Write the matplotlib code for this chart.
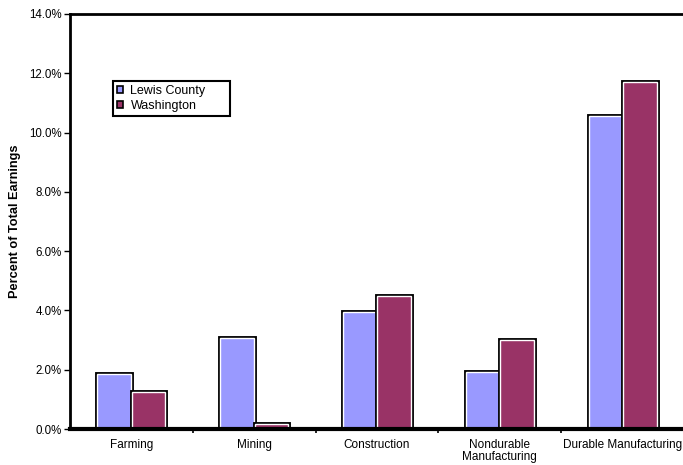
import numpy as np
import matplotlib.pyplot as plt
import matplotlib.patheffects as pe
from matplotlib.ticker import FuncFormatter, FixedLocator

plt.rcParams['font.family'] = ['Liberation Sans', 'DejaVu Sans']

# Share of total earnings by industry (percent)
categories = ["Farming", "Mining", "Construction", "Nondurable\nManufacturing", "Durable Manufacturing"]
lewis = [1.86, 3.07, 3.95, 1.92, 10.56]
washington = [1.25, 0.17, 4.49, 3.00, 11.71]

lewis_color = "#9999ff"
wa_color = "#993366"

fig = plt.figure(figsize=(6.83, 4.65), dpi=100)
ax = fig.add_axes([70 / 683, 1 - 429 / 465, 614 / 683, 415 / 465])

x = np.arange(len(categories))
w = 0.275
edge = [pe.Stroke(linewidth=3.5, foreground="black"), pe.Normal()]
b1 = ax.bar(x - 0.14, lewis, w, color=lewis_color, edgecolor="white", linewidth=1,
            label="Lewis County", zorder=3)
b2 = ax.bar(x + 0.14, washington, w, color=wa_color, edgecolor="white", linewidth=1,
            label="Washington", zorder=3)
for p in list(b1) + list(b2):
    p.set_path_effects(edge)

ax.set_xlim(-0.5, len(categories) - 0.5)
ax.set_ylim(0, 14)
ax.yaxis.set_major_locator(FixedLocator(np.arange(0, 14.1, 2)))
ax.yaxis.set_major_formatter(FuncFormatter(lambda v, _: f"{v:.1f}%"))
ax.tick_params(axis="y", length=4, width=1, labelsize=8.3, pad=2)

ax.set_xticks(x)
ax.set_xticklabels(categories, fontsize=8.5, linespacing=1.05, va="top")
ax.tick_params(axis="x", which="major", length=0, pad=7)
ax.set_xticks(np.arange(0.5, len(categories) - 1, 1), minor=True)
ax.tick_params(axis="x", which="minor", length=3, width=1.2, direction="out")

ax.set_ylabel("Percent of Total Earnings", fontsize=9.2, fontweight="bold", labelpad=6)

ax.spines["right"].set_visible(False)
ax.spines["left"].set_linewidth(2)
ax.spines["top"].set_linewidth(2)
ax.spines["bottom"].set_linewidth(3)
ax.spines["bottom"].set_zorder(4)

leg = ax.legend(loc="upper left", bbox_to_anchor=(43 / 614, 1 - 67 / 415, 117 / 614, 0),
                mode="expand", fontsize=9, fancybox=False, framealpha=1, edgecolor="black",
                handlelength=0.5, handleheight=0.5, handletextpad=0.6, borderpad=0.3,
                labelspacing=0.25, borderaxespad=0)
leg.get_frame().set_linewidth(1.5)
for h in leg.legend_handles:
    h.set_edgecolor("black")
    h.set_linewidth(1.2)
    h.set_path_effects([])

fig.savefig("out.png", dpi=100)
